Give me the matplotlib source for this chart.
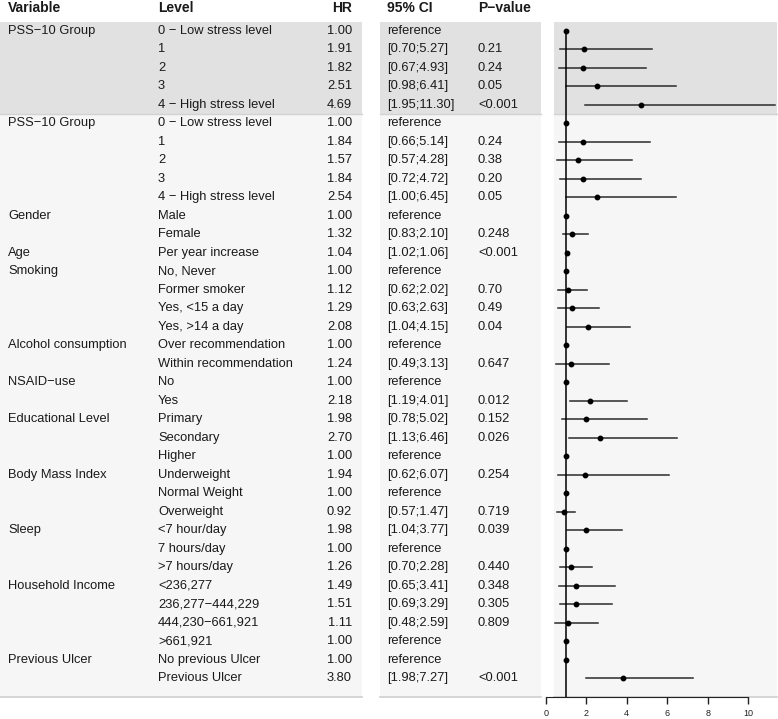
import matplotlib.pyplot as plt
from matplotlib.patches import Rectangle

plt.rcParams['font.family'] = ['Liberation Sans', 'DejaVu Sans']

variables = ["PSS\u221210 Group", "", "", "", "",
             "PSS\u221210 Group", "", "", "", "",
             "Gender", "", "Age",
             "Smoking", "", "", "",
             "Alcohol consumption", "",
             "NSAID\u2212use", "",
             "Educational Level", "", "",
             "Body Mass Index", "", "",
             "Sleep", "", "",
             "Household Income", "", "", "",
             "Previous Ulcer", ""]
levels = ["0 \u2212 Low stress level", "1", "2", "3", "4 \u2212 High stress level",
          "0 \u2212 Low stress level", "1", "2", "3", "4 \u2212 High stress level",
          "Male", "Female", "Per year increase",
          "No, Never", "Former smoker", "Yes, <15 a day", "Yes, >14 a day",
          "Over recommendation", "Within recommendation",
          "No", "Yes",
          "Primary", "Secondary", "Higher",
          "Underweight", "Normal Weight", "Overweight",
          "<7 hour/day", "7 hours/day", ">7 hours/day",
          "<236,277", "236,277\u2212444,229", "444,230\u2212661,921", ">661,921",
          "No previous Ulcer", "Previous Ulcer"]
hr = [1.00, 1.91, 1.82, 2.51, 4.69,
      1.00, 1.84, 1.57, 1.84, 2.54,
      1.00, 1.32, 1.04,
      1.00, 1.12, 1.29, 2.08,
      1.00, 1.24,
      1.00, 2.18,
      1.98, 2.70, 1.00,
      1.94, 1.00, 0.92,
      1.98, 1.00, 1.26,
      1.49, 1.51, 1.11, 1.00,
      1.00, 3.80]
ci_low = [None, 0.70, 0.67, 0.98, 1.95,
          None, 0.66, 0.57, 0.72, 1.00,
          None, 0.83, 1.02,
          None, 0.62, 0.63, 1.04,
          None, 0.49,
          None, 1.19,
          0.78, 1.13, None,
          0.62, None, 0.57,
          1.04, None, 0.70,
          0.65, 0.69, 0.48, None,
          None, 1.98]
ci_high = [None, 5.27, 4.93, 6.41, 11.30,
           None, 5.14, 4.28, 4.72, 6.45,
           None, 2.10, 1.06,
           None, 2.02, 2.63, 4.15,
           None, 3.13,
           None, 4.01,
           5.02, 6.46, None,
           6.07, None, 1.47,
           3.77, None, 2.28,
           3.41, 3.29, 2.59, None,
           None, 7.27]
pvals = ["", "0.21", "0.24", "0.05", "<0.001",
         "", "0.24", "0.38", "0.20", "0.05",
         "", "0.248", "<0.001",
         "", "0.70", "0.49", "0.04",
         "", "0.647",
         "", "0.012",
         "0.152", "0.026", "",
         "0.254", "", "0.719",
         "0.039", "", "0.440",
         "0.348", "0.305", "0.809", "",
         "", "<0.001"]
xticks = [0, 2, 4, 6, 8, 10]

W, H = 778, 719
fig = plt.figure(figsize=(W / 100, H / 100), dpi=100)

# background axes in pixel units (y downwards)
bg = fig.add_axes([0, 0, 1, 1])
bg.set_xlim(0, W)
bg.set_ylim(H, 0)
bg.axis('off')

top, split, bottom = 22, 114, 697
row0, step = 31, 18.49
panels = [(0, 362), (380, 541), (554, 777)]
for x0, x1 in panels:
    bg.add_patch(Rectangle((x0, split), x1 - x0, bottom - split, color='#f6f6f6', lw=0))
    bg.add_patch(Rectangle((x0, top), x1 - x0, split - top, color='#e1e1e1', lw=0))
    bg.plot([x0, x1], [split, split], color='#d2d2d2', lw=1)
    bg.plot([x0, x1], [bottom, bottom], color='#cfcfcf', lw=1.2)

tc = '#1a1a1a'
fs = 9.25
hfs = 10
hy = 8
bg.text(8, hy, "Variable", fontsize=hfs, fontweight='bold', color=tc, va='center')
bg.text(158, hy, "Level", fontsize=hfs, fontweight='bold', color=tc, va='center')
bg.text(352, hy, "HR", fontsize=hfs, fontweight='bold', color=tc, va='center', ha='right')
bg.text(387, hy, "95% CI", fontsize=hfs, fontweight='bold', color=tc, va='center')
bg.text(478, hy, "P\u2212value", fontsize=hfs, fontweight='bold', color=tc, va='center')

for i in range(len(hr)):
    y = row0 + i * step
    bg.text(8, y, variables[i], fontsize=fs, color=tc, va='center')
    bg.text(158, y, levels[i], fontsize=fs, color=tc, va='center')
    bg.text(352, y, f"{hr[i]:.2f}", fontsize=fs, color=tc, va='center', ha='right')
    if ci_low[i] is None:
        ci = "reference"
    else:
        ci = f"[{ci_low[i]:.2f};{ci_high[i]:.2f}]"
    bg.text(387, y, ci, fontsize=fs, color=tc, va='center')
    bg.text(478, y, pvals[i], fontsize=fs, color=tc, va='center')

# forest plot axes (extends a little left of the panel so the 0 tick shows)
x_zero, px_per = 545.7, 20.26
px0, px1 = 538, 777
ax = fig.add_axes([px0 / W, (H - bottom) / H, (px1 - px0) / W, (bottom - top) / H])
ax.set_facecolor('none')

rows = list(range(len(hr)))
for i in rows:
    if ci_low[i] is not None:
        ax.plot([ci_low[i], ci_high[i]], [i, i], color='#2b2b2b', lw=1.1)
ax.plot([1, 1], [0, (bottom - row0) / step], color='black', lw=1.1)
ax.plot(hr, rows, 'o', color='black', markersize=3.2)

for s in ['top', 'right', 'left']:
    ax.spines[s].set_visible(False)
ax.set_xticks(xticks)
ax.set_xticklabels([str(t) for t in xticks])
ax.set_yticks([])
ax.set_ylim((bottom - row0) / step, (top - row0) / step)
ax.set_xlim((px0 - x_zero) / px_per, (px1 - x_zero) / px_per)
ax.spines['bottom'].set_bounds(0, 10)
ax.spines['bottom'].set_color('#222222')
ax.tick_params(axis='x', direction='out', length=5, width=1, labelsize=6.5,
               colors='#222222', pad=4)
for ln in ax.lines:
    ln.set_clip_on(False)

fig.savefig('out.png', dpi=100)
